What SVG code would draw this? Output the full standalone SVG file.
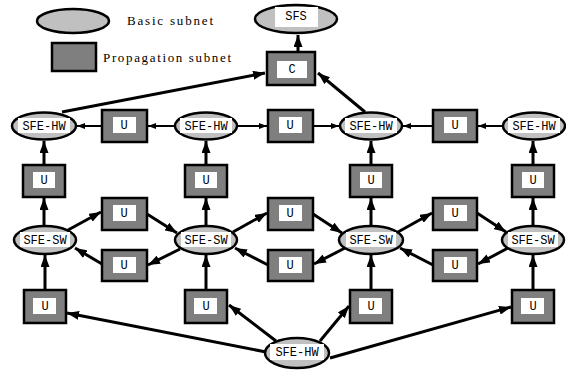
<svg xmlns="http://www.w3.org/2000/svg" width="566" height="371" viewBox="0 0 566 371">
<style>
.bn{fill:#c0c0c0;stroke:#000;stroke-width:2.5}
.pn{fill:#7f7f7f;stroke:#000;stroke-width:2.5}
.wb{fill:#fff;stroke:none}
.t{font-family:"Liberation Mono",monospace;font-size:12px;fill:#000;text-anchor:middle}
.lg{font-family:"Liberation Serif",serif;font-size:13px;fill:#000}
.c{stroke:#000;stroke-width:3;fill:none;marker-end:url(#ah)}
.c2{stroke:#000;stroke-width:2;fill:none;marker-end:url(#ah)}
</style>
<defs>
<marker id="ah" viewBox="0 0 4 3" refX="4" refY="1.5" markerWidth="4" markerHeight="3" orient="auto">
<path d="M0,0 L4,1.5 L0,3 z" fill="#000"/>
</marker>
</defs>
<rect width="566" height="371" fill="#fff"/>
<g id="legend">
<ellipse class="bn" cx="73" cy="21" rx="36" ry="12"/>
<text class="lg" x="127" y="25" textLength="86">Basic subnet</text>
<rect class="pn" x="52" y="43" width="44" height="28"/>
<text class="lg" x="103" y="62" textLength="128">Propagation subnet</text>
</g>
<g id="connectors">
<line class="c" x1="298" y1="52" x2="298" y2="35"/>
<line class="c" x1="62" y1="112" x2="265" y2="73"/>
<line class="c" x1="365" y1="112" x2="318" y2="73"/>
<line class="c2" x1="102" y1="126" x2="77" y2="126"/>
<line class="c2" x1="175" y1="126" x2="148" y2="126"/>
<line class="c2" x1="237" y1="126" x2="267" y2="126"/>
<line class="c2" x1="313" y1="126" x2="339" y2="126"/>
<line class="c2" x1="433" y1="126" x2="403" y2="126"/>
<line class="c2" x1="503" y1="126" x2="478" y2="126"/>
<line class="c" x1="44" y1="165" x2="44" y2="141"/>
<line class="c" x1="206" y1="165" x2="206" y2="141"/>
<line class="c" x1="371" y1="165" x2="371" y2="141"/>
<line class="c" x1="533" y1="165" x2="533" y2="141"/>
<line class="c" x1="44" y1="226" x2="44" y2="198"/>
<line class="c" x1="206" y1="226" x2="206" y2="198"/>
<line class="c" x1="371" y1="226" x2="371" y2="198"/>
<line class="c" x1="533" y1="226" x2="533" y2="198"/>
<line class="c" x1="68" y1="230" x2="101" y2="212"/>
<line class="c" x1="102" y1="264" x2="75" y2="248"/>
<line class="c" x1="147" y1="214" x2="177" y2="233"/>
<line class="c" x1="180" y1="249" x2="148" y2="265"/>
<line class="c" x1="233" y1="232" x2="267" y2="213"/>
<line class="c" x1="268" y1="265" x2="235" y2="248"/>
<line class="c" x1="313" y1="214" x2="342" y2="233"/>
<line class="c" x1="345" y1="248" x2="314" y2="264"/>
<line class="c" x1="398" y1="232" x2="432" y2="213"/>
<line class="c" x1="433" y1="265" x2="400" y2="248"/>
<line class="c" x1="477" y1="213" x2="506" y2="232"/>
<line class="c" x1="508" y1="248" x2="478" y2="264"/>
<line class="c" x1="45" y1="290" x2="45" y2="255"/>
<line class="c" x1="206" y1="290" x2="206" y2="255"/>
<line class="c" x1="371" y1="290" x2="371" y2="255"/>
<line class="c" x1="533" y1="290" x2="533" y2="255"/>
<line class="c" x1="266" y1="352" x2="67" y2="313"/>
<line class="c" x1="276" y1="341" x2="229" y2="305"/>
<line class="c" x1="320" y1="341" x2="349" y2="306"/>
<line class="c" x1="330" y1="358" x2="511" y2="307"/>
</g>
<g id="sfs"><ellipse class="bn" cx="296" cy="19" rx="41" ry="14"/><rect class="wb" x="275" y="7" width="43" height="20"/><text class="t" x="296" y="20">SFS</text></g>
<g id="c"><rect class="pn" x="267" y="52" width="48" height="33"/><rect class="wb" x="277" y="61" width="30" height="17"/><text class="t" x="292" y="73">C</text></g>
<g id="hw1"><ellipse class="bn" cx="44" cy="126" rx="32" ry="13.5"/><rect class="wb" x="18" y="118" width="52" height="15"/><text class="t" x="44" y="130">SFE-HW</text></g>
<g id="hw2"><ellipse class="bn" cx="206" cy="126" rx="31" ry="13.5"/><rect class="wb" x="180" y="118" width="52" height="15"/><text class="t" x="206" y="130">SFE-HW</text></g>
<g id="hw3"><ellipse class="bn" cx="371" cy="126" rx="31" ry="13.5"/><rect class="wb" x="345" y="118" width="52" height="15"/><text class="t" x="371" y="130">SFE-HW</text></g>
<g id="hw4"><ellipse class="bn" cx="534" cy="126" rx="31" ry="13.5"/><rect class="wb" x="508" y="118" width="52" height="15"/><text class="t" x="534" y="130">SFE-HW</text></g>
<g id="u1a"><rect class="pn" x="102" y="110" width="45" height="32"/><rect class="wb" x="113" y="117" width="23" height="16"/><text class="t" x="124" y="129">U</text></g>
<g id="u2a"><rect class="pn" x="268" y="110" width="45" height="32"/><rect class="wb" x="279" y="117" width="23" height="16"/><text class="t" x="290" y="129">U</text></g>
<g id="u3a"><rect class="pn" x="433" y="110" width="44" height="32"/><rect class="wb" x="444" y="117" width="23" height="16"/><text class="t" x="455" y="129">U</text></g>
<g id="v1"><rect class="pn" x="23" y="165" width="42" height="32"/><rect class="wb" x="33" y="172" width="22" height="16"/><text class="t" x="44" y="184">U</text></g>
<g id="v2"><rect class="pn" x="185" y="165" width="42" height="32"/><rect class="wb" x="195" y="172" width="22" height="16"/><text class="t" x="206" y="184">U</text></g>
<g id="v3"><rect class="pn" x="350" y="165" width="42" height="32"/><rect class="wb" x="360" y="172" width="22" height="16"/><text class="t" x="371" y="184">U</text></g>
<g id="v4"><rect class="pn" x="512" y="165" width="42" height="32"/><rect class="wb" x="522" y="172" width="22" height="16"/><text class="t" x="533" y="184">U</text></g>
<g id="sw1"><ellipse class="bn" cx="45" cy="240" rx="31" ry="14"/><rect class="wb" x="20" y="232" width="50" height="15"/><text class="t" x="45" y="244">SFE-SW</text></g>
<g id="sw2"><ellipse class="bn" cx="206" cy="240" rx="31" ry="14"/><rect class="wb" x="181" y="232" width="50" height="15"/><text class="t" x="206" y="244">SFE-SW</text></g>
<g id="sw3"><ellipse class="bn" cx="371" cy="240" rx="32" ry="14"/><rect class="wb" x="346" y="232" width="50" height="15"/><text class="t" x="371" y="244">SFE-SW</text></g>
<g id="sw4"><ellipse class="bn" cx="533" cy="240" rx="31" ry="14"/><rect class="wb" x="508" y="232" width="50" height="15"/><text class="t" x="533" y="244">SFE-SW</text></g>
<g id="u1b"><rect class="pn" x="102" y="198" width="45" height="32"/><rect class="wb" x="113" y="205" width="23" height="16"/><text class="t" x="124" y="217">U</text></g>
<g id="u1c"><rect class="pn" x="102" y="250" width="45" height="31"/><rect class="wb" x="113" y="257" width="23" height="16"/><text class="t" x="124" y="269">U</text></g>
<g id="u2b"><rect class="pn" x="268" y="198" width="45" height="32"/><rect class="wb" x="279" y="205" width="23" height="16"/><text class="t" x="290" y="217">U</text></g>
<g id="u2c"><rect class="pn" x="268" y="250" width="45" height="31"/><rect class="wb" x="279" y="257" width="23" height="16"/><text class="t" x="290" y="269">U</text></g>
<g id="u3b"><rect class="pn" x="433" y="198" width="44" height="32"/><rect class="wb" x="444" y="205" width="23" height="16"/><text class="t" x="455" y="217">U</text></g>
<g id="u3c"><rect class="pn" x="433" y="250" width="44" height="31"/><rect class="wb" x="444" y="257" width="23" height="16"/><text class="t" x="455" y="269">U</text></g>
<g id="b1"><rect class="pn" x="24" y="290" width="42" height="33"/><rect class="wb" x="33" y="298" width="23" height="16"/><text class="t" x="45" y="310">U</text></g>
<g id="b2"><rect class="pn" x="185" y="290" width="42" height="33"/><rect class="wb" x="194" y="298" width="23" height="16"/><text class="t" x="206" y="310">U</text></g>
<g id="b3"><rect class="pn" x="350" y="290" width="42" height="33"/><rect class="wb" x="359" y="298" width="23" height="16"/><text class="t" x="371" y="310">U</text></g>
<g id="b4"><rect class="pn" x="512" y="290" width="42" height="33"/><rect class="wb" x="521" y="298" width="23" height="16"/><text class="t" x="533" y="310">U</text></g>
<g id="hw5"><ellipse class="bn" cx="297" cy="353" rx="32" ry="15"/><rect class="wb" x="270" y="344" width="54" height="16"/><text class="t" x="297" y="356">SFE-HW</text></g>
</svg>
